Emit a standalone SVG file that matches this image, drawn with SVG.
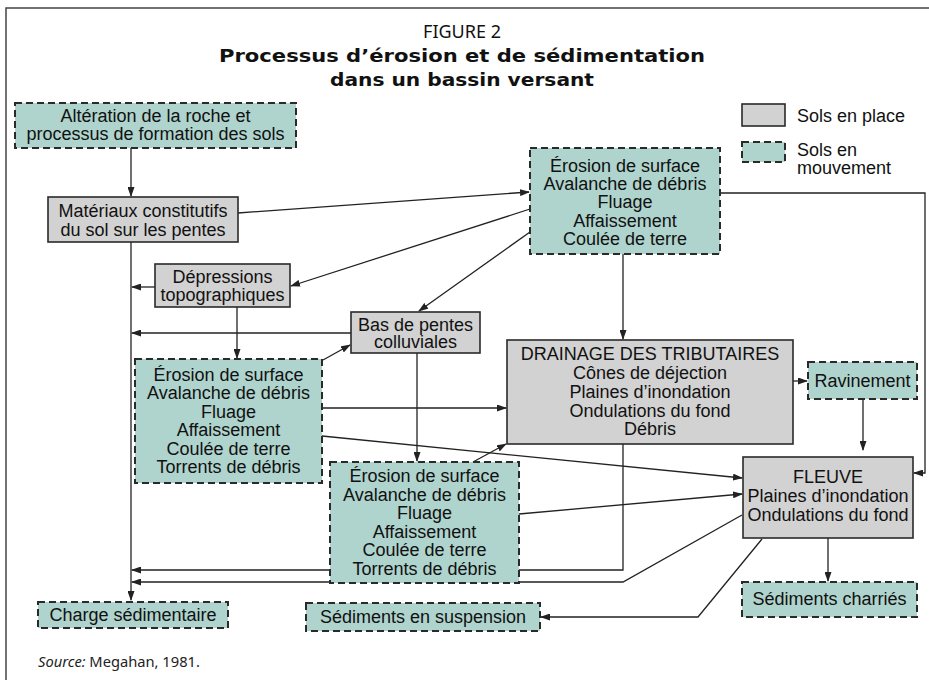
<svg xmlns="http://www.w3.org/2000/svg" width="929" height="680" viewBox="0 0 929 680">
<defs>
<marker id="ah" markerUnits="userSpaceOnUse" markerWidth="10" markerHeight="7" refX="9" refY="3.5" orient="auto">
<path d="M0,0 L10,3.5 L0,7 z" fill="#222"/>
</marker>
<style>
.bg{fill:#ffffff}
.frame{fill:none;stroke:#444;stroke-width:1.5}
.fix{fill:#d2d2d2;stroke:#2a2a2a;stroke-width:1.6}
.mov{fill:#afd4cd;stroke:#2a2a2a;stroke-width:2;stroke-dasharray:7 4}
.t{font-family:"Liberation Sans",Arial,sans-serif;font-size:18px;fill:#111;text-anchor:middle}
.tl{font-family:"Liberation Sans",Arial,sans-serif;font-size:18px;fill:#111}
.ttl{font-family:"Noto Sans","Open Sans",sans-serif;font-size:18px;fill:#111;text-anchor:middle}
.ttb{font-family:"DejaVu Sans","Noto Sans",sans-serif;font-size:18px;font-weight:bold;fill:#111;text-anchor:middle}
.src{font-family:"Noto Sans","Open Sans",sans-serif;font-size:14.7px;fill:#222}
.c{fill:none;stroke:#222;stroke-width:1.3;marker-end:url(#ah)}
</style>
</defs>
<rect class="bg" x="0" y="0" width="929" height="680"/>
<path class="frame" d="M929,8 H6 V680"/>
<text class="ttl" x="462" y="38">FIGURE 2</text>
<text class="ttb" x="462" y="62" textLength="486" lengthAdjust="spacingAndGlyphs">Processus d’érosion et de sédimentation</text>
<text class="ttb" x="462" y="86" textLength="264" lengthAdjust="spacingAndGlyphs">dans un bassin versant</text>

<g id="connectors">
<path class="c" d="M131,148 V196"/>
<path class="c" d="M131,242 V600"/>
<path class="c" d="M155,287 H132"/>
<path class="c" d="M351,333 H132"/>
<path class="c" d="M623,444 V570 H132"/>
<path class="c" d="M742,515 L623,582 H132"/>
<path class="c" d="M238,213 L529,192"/>
<path class="c" d="M530,209 L291,286"/>
<path class="c" d="M530,232 L419,311"/>
<path class="c" d="M720,193 H925 V473 H914"/>
<path class="c" d="M623,254 V339"/>
<path class="c" d="M237,307 V358"/>
<path class="c" d="M323,360 L350,345"/>
<path class="c" d="M322,408 H506"/>
<path class="c" d="M322,436 L742,478"/>
<path class="c" d="M417,353 V461"/>
<path class="c" d="M473,462 L506,444"/>
<path class="c" d="M519,514 L742,494"/>
<path class="c" d="M793,381 H807"/>
<path class="c" d="M863,399 V450"/>
<path class="c" d="M762,539 L698,617 H541"/>
<path class="c" d="M828,538 V581"/>
</g>

<g id="legend">
<rect class="fix" x="742" y="104" width="43" height="22"/>
<text class="tl" x="797" y="122">Sols en place</text>
<rect class="mov" x="742" y="142" width="43" height="20"/>
<text class="tl" x="797" y="156">Sols en</text>
<text class="tl" x="797" y="174">mouvement</text>
</g>

<g id="alteration">
<rect class="mov" x="15" y="103" width="281" height="45"/>
<text class="t" x="155.5" y="122">Altération de la roche et</text>
<text class="t" x="155.5" y="140">processus de formation des sols</text>
</g>
<g id="materiaux">
<rect class="fix" x="48" y="197" width="190" height="45"/>
<text class="t" x="143" y="217">Matériaux constitutifs</text>
<text class="t" x="143" y="236">du sol sur les pentes</text>
</g>
<g id="depressions">
<rect class="fix" x="155" y="264" width="135" height="43"/>
<text class="t" x="222.5" y="283">Dépressions</text>
<text class="t" x="222.5" y="301">topographiques</text>
</g>
<g id="erosion1">
<rect class="mov" x="530" y="148" width="190" height="106"/>
<text class="t" x="625" y="172">Érosion de surface</text>
<text class="t" x="625" y="190">Avalanche de débris</text>
<text class="t" x="625" y="208">Fluage</text>
<text class="t" x="625" y="227">Affaissement</text>
<text class="t" x="625" y="245">Coulée de terre</text>
</g>
<g id="bas-pentes">
<rect class="fix" x="351" y="312" width="129" height="41"/>
<text class="t" x="415.5" y="331">Bas de pentes</text>
<text class="t" x="415.5" y="348">colluviales</text>
</g>
<g id="erosion2">
<rect class="mov" x="135" y="359" width="187" height="124"/>
<text class="t" x="228.5" y="381">Érosion de surface</text>
<text class="t" x="228.5" y="399">Avalanche de débris</text>
<text class="t" x="228.5" y="418">Fluage</text>
<text class="t" x="228.5" y="436">Affaissement</text>
<text class="t" x="228.5" y="455">Coulée de terre</text>
<text class="t" x="228.5" y="473">Torrents de débris</text>
</g>
<g id="drainage">
<rect class="fix" x="507" y="340" width="286" height="104"/>
<text class="t" x="650" y="360">DRAINAGE DES TRIBUTAIRES</text>
<text class="t" x="650" y="379">Cônes de déjection</text>
<text class="t" x="650" y="398">Plaines d’inondation</text>
<text class="t" x="650" y="417">Ondulations du fond</text>
<text class="t" x="650" y="435">Débris</text>
</g>
<g id="ravinement">
<rect class="mov" x="808" y="362" width="109" height="37"/>
<text class="t" x="862.5" y="387">Ravinement</text>
</g>
<g id="fleuve">
<rect class="fix" x="743" y="457" width="170" height="81"/>
<text class="t" x="828" y="483">FLEUVE</text>
<text class="t" x="828" y="502">Plaines d’inondation</text>
<text class="t" x="828" y="521">Ondulations du fond</text>
</g>
<g id="erosion3">
<rect class="mov" x="330" y="462" width="189" height="121"/>
<text class="t" x="424.5" y="482">Érosion de surface</text>
<text class="t" x="424.5" y="501">Avalanche de débris</text>
<text class="t" x="424.5" y="519">Fluage</text>
<text class="t" x="424.5" y="538">Affaissement</text>
<text class="t" x="424.5" y="556">Coulée de terre</text>
<text class="t" x="424.5" y="575">Torrents de débris</text>
</g>
<g id="charge">
<rect class="mov" x="38" y="602" width="190" height="26"/>
<text class="t" x="133" y="621">Charge sédimentaire</text>
</g>
<g id="suspension">
<rect class="mov" x="306" y="603" width="234" height="28"/>
<text class="t" x="423" y="623">Sédiments en suspension</text>
</g>
<g id="charries">
<rect class="mov" x="742" y="582" width="175" height="35"/>
<text class="t" x="829.5" y="605">Sédiments charriés</text>
</g>
<text class="src" x="38" y="667"><tspan font-style="italic">Source:</tspan> Megahan, 1981.</text>
</svg>
